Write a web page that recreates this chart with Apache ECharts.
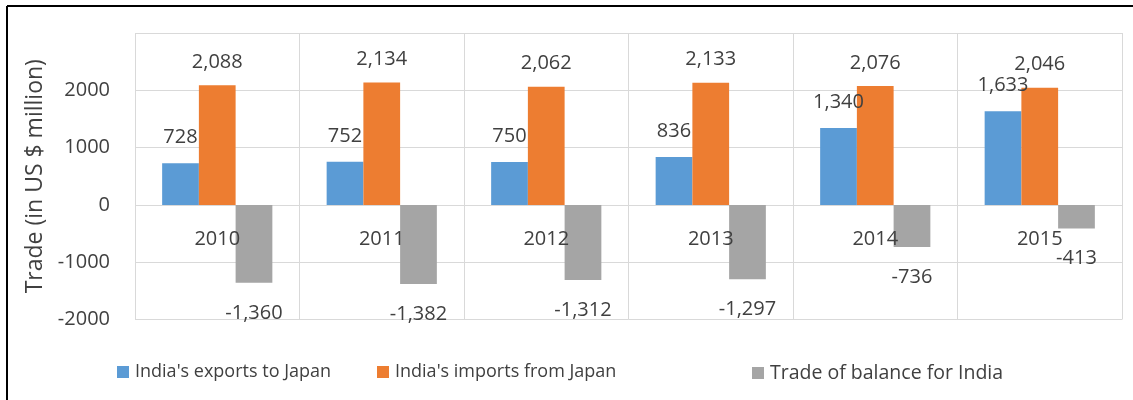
<!DOCTYPE html>
<html>
<head>
<meta charset="utf-8">
<script src="https://cdn.jsdelivr.net/npm/echarts@6/dist/echarts.min.js"></script>
<style>
  html, body { margin: 0; padding: 0; background: #ffffff; }
  #chart { width: 1133px; height: 400px; }
</style>
</head>
<body>
<div id="chart"></div>
<script>
// India–Japan bilateral trade, US $ million
const years = ['2010', '2011', '2012', '2013', '2014', '2015'];
const exportsToJapan = [728, 752, 750, 836, 1340, 1633];
const importsFromJapan = [2088, 2134, 2062, 2133, 2076, 2046];
const tradeBalance = [-1360, -1382, -1312, -1297, -736, -413];
const seriesNames = ["India's exports to Japan", "India's imports from Japan", 'Trade of balance for India'];
const yTicks = { min: -2000, max: 3000, interval: 1000 };

const FONT = '"Open Sans", "Noto Sans", sans-serif';
const TEXT = '#404040';
const GRID_LINE = '#D9D9D9';
const COLORS = ['#5B9BD5', '#ED7D31', '#A5A5A5'];

const fmt = v => Number(v).toLocaleString('en-US');

function barSeries(name, data, color, position, distance) {
  return {
    name: name,
    type: 'bar',
    data: data,
    barGap: '0%',
    barCategoryGap: '33%',
    itemStyle: { color: color },
    label: {
      show: true,
      position: position,
      distance: distance,
      color: TEXT,
      fontFamily: FONT,
      fontSize: 20,
      formatter: p => fmt(p.value)
    }
  };
}

function legendItem(name, left, size) {
  return {
    data: [name],
    left: left,
    top: 358,
    itemWidth: 12,
    itemHeight: 12,
    itemGap: 0,
    icon: 'rect',
    textStyle: { color: TEXT, fontFamily: FONT, fontSize: size, padding: [0, 0, 0, 1] }
  };
}

const chart = echarts.init(document.getElementById('chart'), null, { renderer: 'canvas' });
chart.setOption({
  animation: false,
  backgroundColor: '#ffffff',
  textStyle: { fontFamily: FONT },
  grid: { left: 135, right: 11, top: 33, bottom: 80.5, containLabel: false },
  legend: [
    legendItem(seriesNames[0], 112, 18),
    legendItem(seriesNames[1], 372, 18),
    legendItem(seriesNames[2], 747, 19.5)
  ],
  graphic: [
    { type: 'line', shape: { x1: 7, y1: 6, x2: 1133, y2: 6 }, style: { stroke: '#000', lineWidth: 2 }, silent: true },
    { type: 'line', shape: { x1: 7, y1: 6, x2: 7, y2: 400 }, style: { stroke: '#000', lineWidth: 2 }, silent: true }
  ],
  xAxis: {
    type: 'category',
    data: years,
    z: 3,
    // labels sit just under the zero line
    offset: -114,
    axisLine: { show: false, onZero: false },
    axisTick: { show: false },
    axisLabel: { color: TEXT, fontFamily: FONT, fontSize: 20, margin: 24 },
    splitLine: { show: true, lineStyle: { color: GRID_LINE, width: 1 } }
  },
  yAxis: {
    type: 'value',
    min: yTicks.min,
    max: yTicks.max,
    interval: yTicks.interval,
    name: 'Trade (in US $ million)',
    nameLocation: 'middle',
    nameGap: 84,
    nameTextStyle: { color: TEXT, fontFamily: FONT, fontSize: 23 },
    axisLine: { show: false },
    axisTick: { show: false },
    axisLabel: {
      color: TEXT, fontFamily: FONT, fontSize: 20, margin: 25,
      showMaxLabel: false,
      formatter: v => String(v)
    },
    splitLine: { show: true, lineStyle: { color: GRID_LINE, width: 1 } }
  },
  series: [
    barSeries(seriesNames[0], exportsToJapan, COLORS[0], 'top', 16),
    barSeries(seriesNames[1], importsFromJapan, COLORS[1], 'top', 13),
    barSeries(seriesNames[2], tradeBalance, COLORS[2], 'bottom', 20)
  ]
});
</script>
</body>
</html>
